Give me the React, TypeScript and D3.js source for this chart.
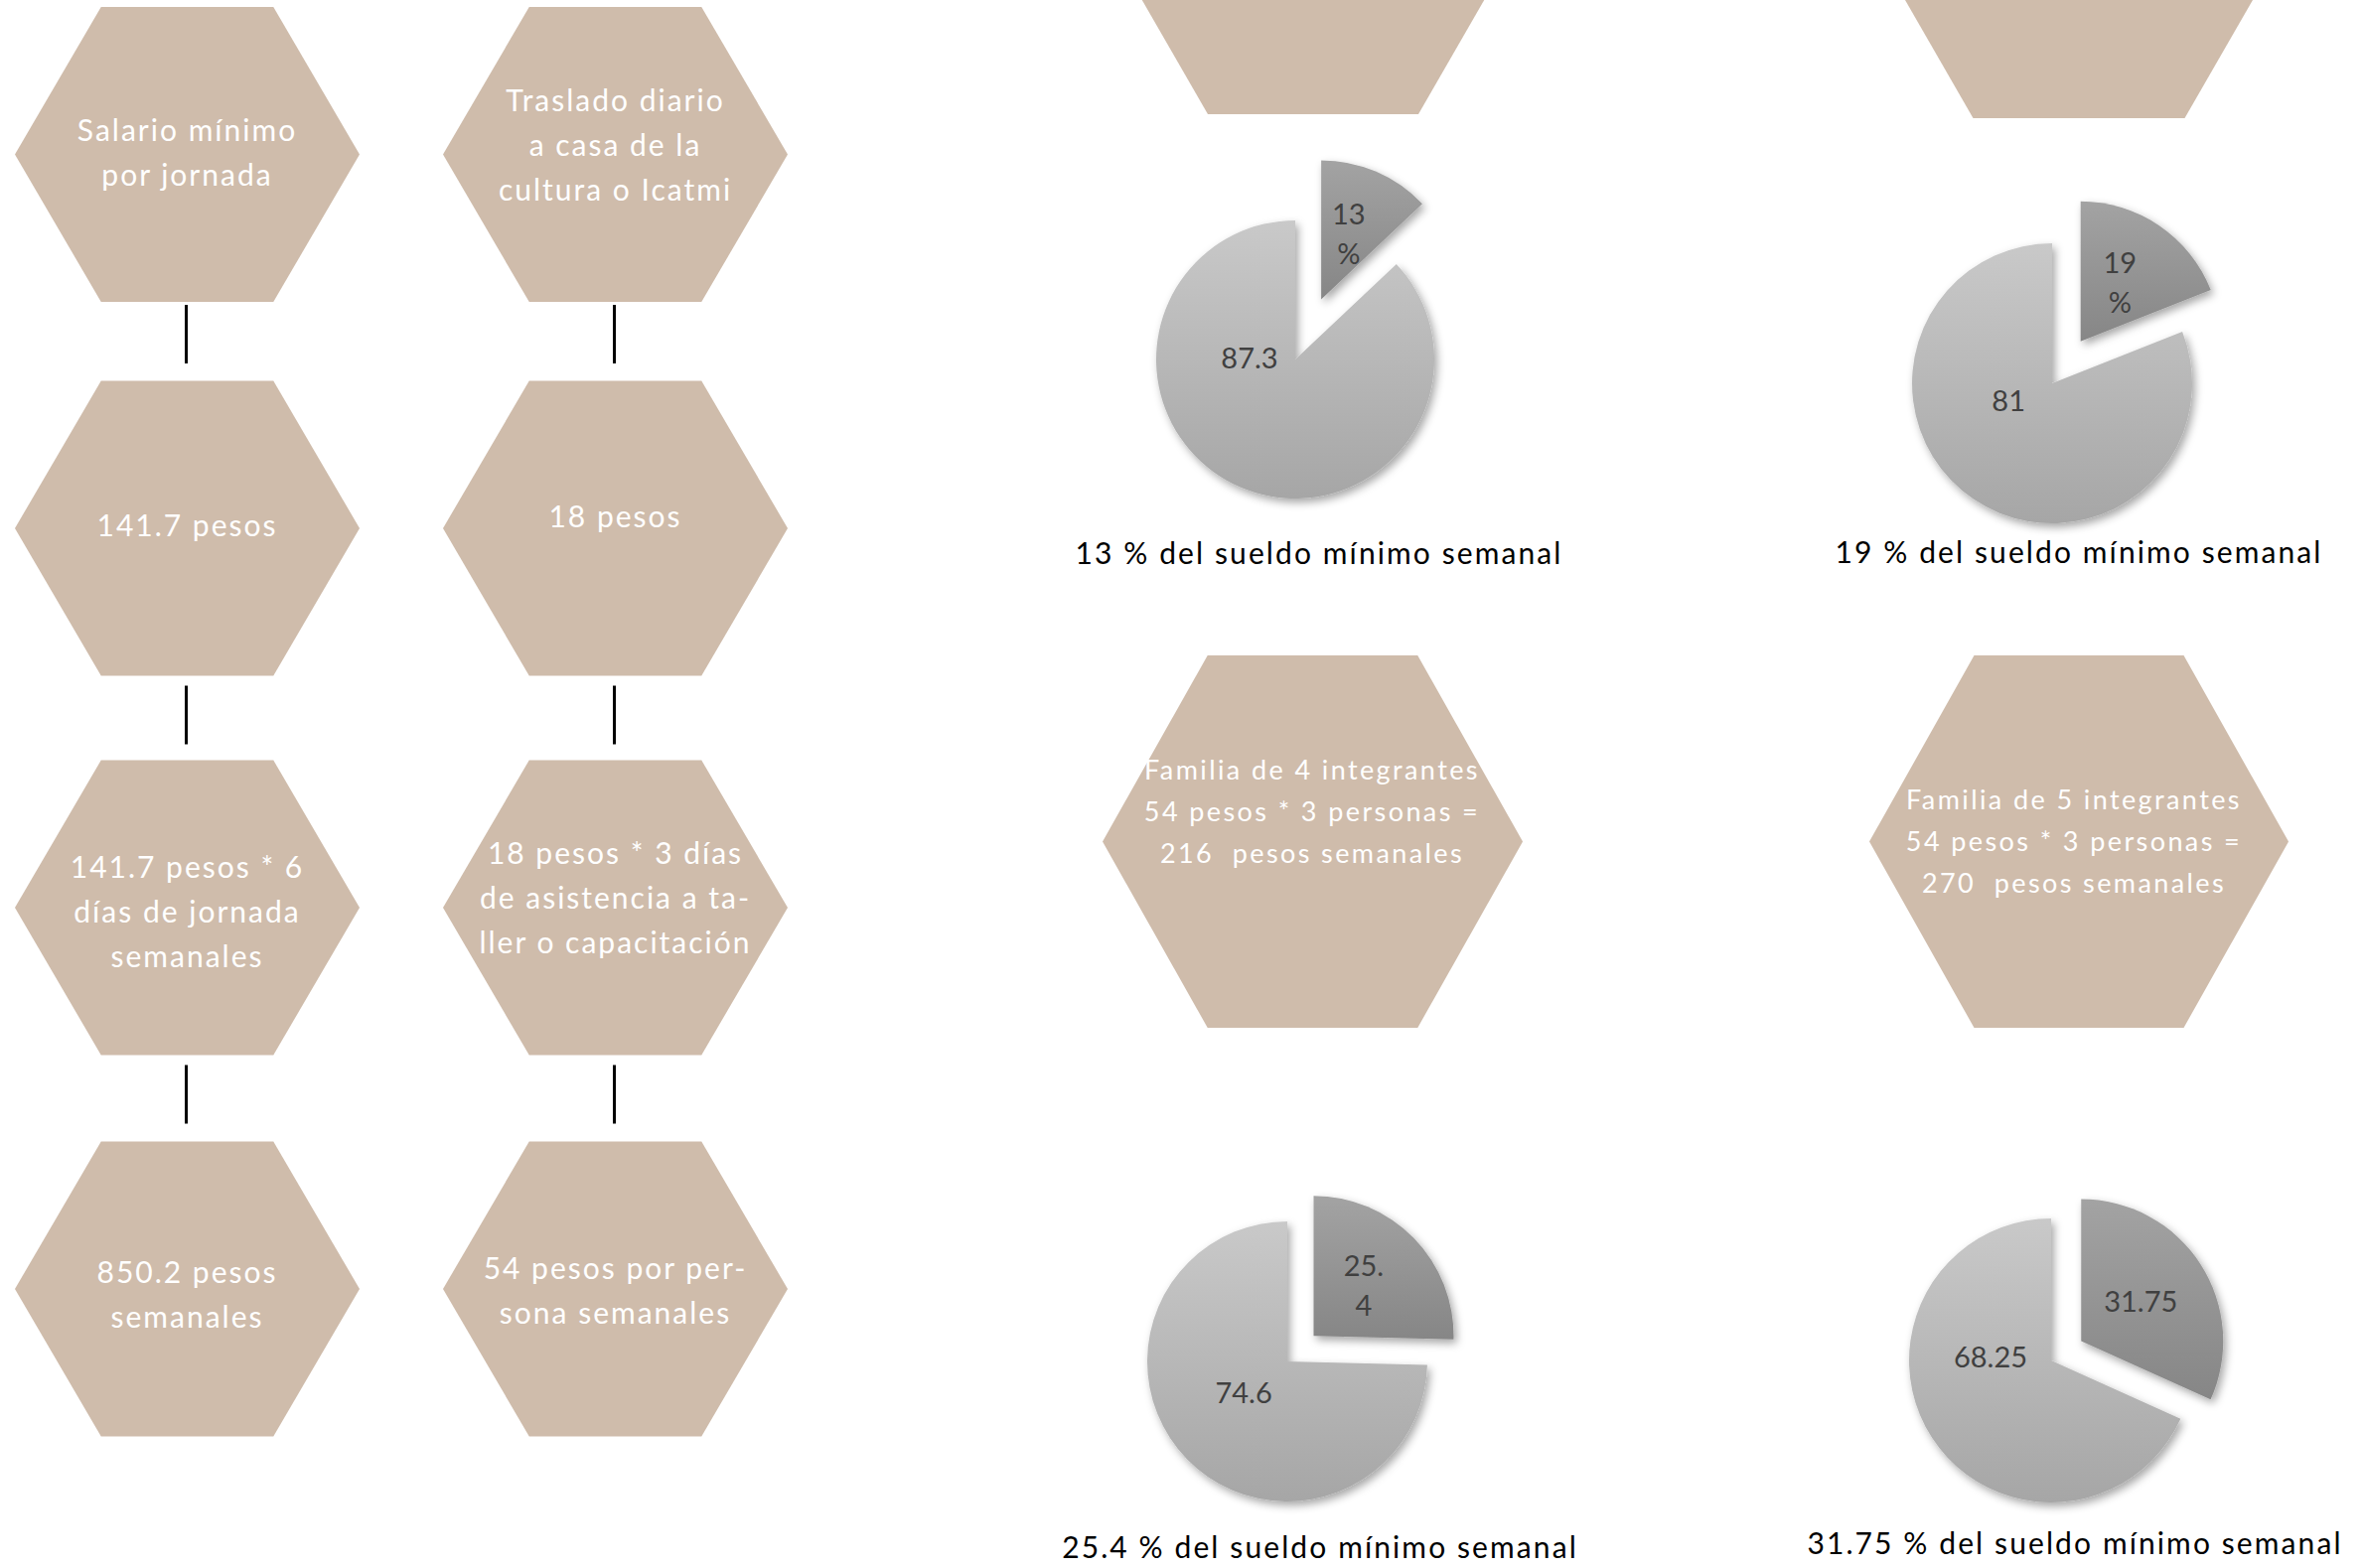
import React, { useEffect } from "react";
import * as d3 from "d3";

const W = 2380;
const H = 1579;

// ---------- data ----------
const col1Texts: string[][] = [
  ["Salario mínimo", "por jornada"],
  ["141.7 pesos"],
  ["141.7 pesos * 6", "días de jornada", "semanales"],
  ["850.2 pesos", "semanales"],
];
const col2Texts: string[][] = [
  ["Traslado diario", "a casa de la", "cultura o Icatmi"],
  ["18 pesos"],
  ["18 pesos * 3 días", "de asistencia a ta-", "ller o capacitación"],
  ["54 pesos por per-", "sona semanales"],
];
const familyTexts: string[][] = [
  ["Familia de 4 integrantes", "54 pesos * 3 personas =", "216  pesos semanales"],
  ["Familia de 5 integrantes", "54 pesos * 3 personas =", "270  pesos semanales"],
];
const pieShare = [13, 19, 25.4, 31.75];
const pieRest = [87.3, 81, 74.6, 68.25];
const shareLabels: string[][] = [["13", "%"], ["19", "%"], ["25.", "4"], ["31.75"]];
const restLabels = ["87.3", "81", "74.6", "68.25"];
const captions = [
  "13 % del sueldo mínimo semanal",
  "19 % del sueldo mínimo semanal",
  "25.4 % del sueldo mínimo semanal",
  "31.75 % del sueldo mínimo semanal",
];

// ---------- layout ----------
const HEX_FILL = "#cfbcab";
const GEO_FONT = "Lato, 'Open Sans', sans-serif";
const LABEL_FONT = "Lato, 'Open Sans', sans-serif";
const LEFT_COLS = [188.5, 619.5];
const LEFT_ROWS = [155.5, 532, 914, 1298];
const LEFT_HW = 173.5;
const LEFT_HH = 148.5;
const CONNECTOR_GAP = [3, 10, 10];
const CONNECTOR_LEN = 59;
const leftTextShift = [
  [-3, -11],
  [-4, -13],
  [3, -11],
  [4, 0],
];
const topHexes = [
  { cx: 1322, cy: -69, hw: 212, hh: 184 },
  { cx: 2093, cy: -66, hw: 213, hh: 185 },
];
const familyHexes = [
  { cx: 1321.5, cy: 847.5, hw: 211.5, hh: 187.5, tx: 1321, ty: 816 },
  { cx: 2093, cy: 847.5, hw: 211, hh: 187.5, tx: 2088, ty: 846 },
];
const pieLayout = [
  { cx: 1304, cy: 362, r: 140, explode: 66, restAngle: 270, restDist: 46, capX: 1328, capY: 556 },
  { cx: 2066, cy: 386, r: 141, explode: 51, restAngle: 246, restDist: 48, capX: 2093, capY: 555 },
  { cx: 1296, cy: 1371, r: 141, explode: 37, restAngle: 233, restDist: 55, capX: 1329, capY: 1557 },
  { cx: 2065, cy: 1370, r: 143, explode: 36, restAngle: 271, restDist: 61, capX: 2089, capY: 1553 },
];

const hexLine = d3
  .line<[number, number]>()
  .x((d) => d[0])
  .y((d) => d[1])
  .curve(d3.curveLinearClosed);

function hexPath(cx: number, cy: number, hw: number, hh: number): string {
  const pts: [number, number][] = [
    [cx - hw, cy],
    [cx - hw / 2, cy - hh],
    [cx + hw / 2, cy - hh],
    [cx + hw, cy],
    [cx + hw / 2, cy + hh],
    [cx - hw / 2, cy + hh],
  ];
  return hexLine(pts) || "";
}

function MultiLine({ x, y, lines, size, gap, fill, spacing, font }: { x: number; y: number; lines: string[]; size: number; gap: number; fill: string; spacing: number; font: string }) {
  const y0 = y - ((lines.length - 1) * gap) / 2;
  return (
    <text
      x={x}
      y={y0}
      fill={fill}
      fontFamily={font}
      fontSize={size}
      letterSpacing={spacing}
      textAnchor="middle"
      dominantBaseline="central"
      style={{ whiteSpace: "pre" }}
    >
      {lines.map((l, i) => (
        <tspan key={i} x={x} y={y0 + i * gap}>
          {l}
        </tspan>
      ))}
    </text>
  );
}

export default function App() {
  useEffect(() => {
    document.body.style.margin = "0";
  }, []);

  const pieGen = d3.pie<number>().sort(null).startAngle(0).endAngle(2 * Math.PI);

  return (
    <svg width={W} height={H} viewBox={`0 0 ${W} ${H}`} style={{ position: "absolute", left: 0, top: 0, background: "#fff" }}>
      <defs>
        <linearGradient id="gLight" x1="0" y1="0" x2="0" y2="1">
          <stop offset="0" stopColor="#c9c9c9" />
          <stop offset="1" stopColor="#a6a6a6" />
        </linearGradient>
        <linearGradient id="gDark" x1="0" y1="0" x2="0" y2="1">
          <stop offset="0" stopColor="#a3a3a3" />
          <stop offset="1" stopColor="#868686" />
        </linearGradient>
        <filter id="shadow" x="-20%" y="-20%" width="140%" height="140%">
          <feDropShadow dx="3" dy="4" stdDeviation="4" floodColor="#000" floodOpacity="0.35" />
        </filter>
      </defs>

      {/* left flow columns */}
      {[col1Texts, col2Texts].map((texts, ci) => (
        <g key={"col" + ci}>
          {texts.map((lines, ri) => {
            const cx = LEFT_COLS[ci];
            const cy = LEFT_ROWS[ri];
            const y1 = cy + LEFT_HH + (CONNECTOR_GAP[ri] ?? 10);
            return (
              <g key={ri}>
                <path d={hexPath(cx, cy, LEFT_HW, LEFT_HH)} fill={HEX_FILL} />
                <MultiLine x={cx} y={cy + leftTextShift[ri][ci]} lines={lines} size={30} gap={45} fill="#fff" spacing={2.0} font={GEO_FONT} />
                {ri < texts.length - 1 && (
                  <line x1={cx - 1} x2={cx - 1} y1={y1} y2={y1 + CONNECTOR_LEN} stroke="#000" strokeWidth={3} />
                )}
              </g>
            );
          })}
        </g>
      ))}

      {/* right column hexagons */}
      {topHexes.map((h, i) => (
        <path key={"top" + i} d={hexPath(h.cx, h.cy, h.hw, h.hh)} fill={HEX_FILL} />
      ))}
      {familyHexes.map((h, i) => (
        <g key={"fam" + i}>
          <path d={hexPath(h.cx, h.cy, h.hw, h.hh)} fill={HEX_FILL} />
          <MultiLine x={h.tx} y={h.ty} lines={familyTexts[i]} size={27} gap={42} fill="#fff" spacing={2.4} font={GEO_FONT} />
        </g>
      ))}

      {/* pies */}
      {pieLayout.map((p, i) => {
        const arcs = pieGen([pieShare[i], pieRest[i]]);
        const arc = d3.arc<d3.PieArcDatum<number>>().innerRadius(0).outerRadius(p.r);
        const share = arcs[0];
        const rest = arcs[1];
        const mid = (share.startAngle + share.endAngle) / 2;
        const [ex, ey] = d3.pointRadial(mid, p.explode);
        const [lx, ly] = arc.centroid(share);
        const [rx, ry] = d3.pointRadial((p.restAngle * Math.PI) / 180, p.restDist);
        return (
          <g key={"pie" + i}>
            <g transform={`translate(${p.cx},${p.cy})`} filter="url(#shadow)">
              <path d={arc(rest) || ""} fill="url(#gLight)" />
              <path d={arc(share) || ""} fill="url(#gDark)" transform={`translate(${ex},${ey})`} />
            </g>
            <g transform={`translate(${p.cx},${p.cy - 3})`}>
              <MultiLine x={ex + lx} y={ey + ly} lines={shareLabels[i]} size={29} gap={40} fill="#404040" spacing={0} font={LABEL_FONT} />
              <text x={rx} y={ry} textAnchor="middle" dominantBaseline="central" fontFamily={LABEL_FONT} fontSize={29} fill="#404040">
                {restLabels[i]}
              </text>
            </g>
            <text x={p.capX} y={p.capY} textAnchor="middle" dominantBaseline="central" fontFamily={GEO_FONT} fontSize={30} letterSpacing={2.1} fill="#000">
              {captions[i]}
            </text>
          </g>
        );
      })}
    </svg>
  );
}
